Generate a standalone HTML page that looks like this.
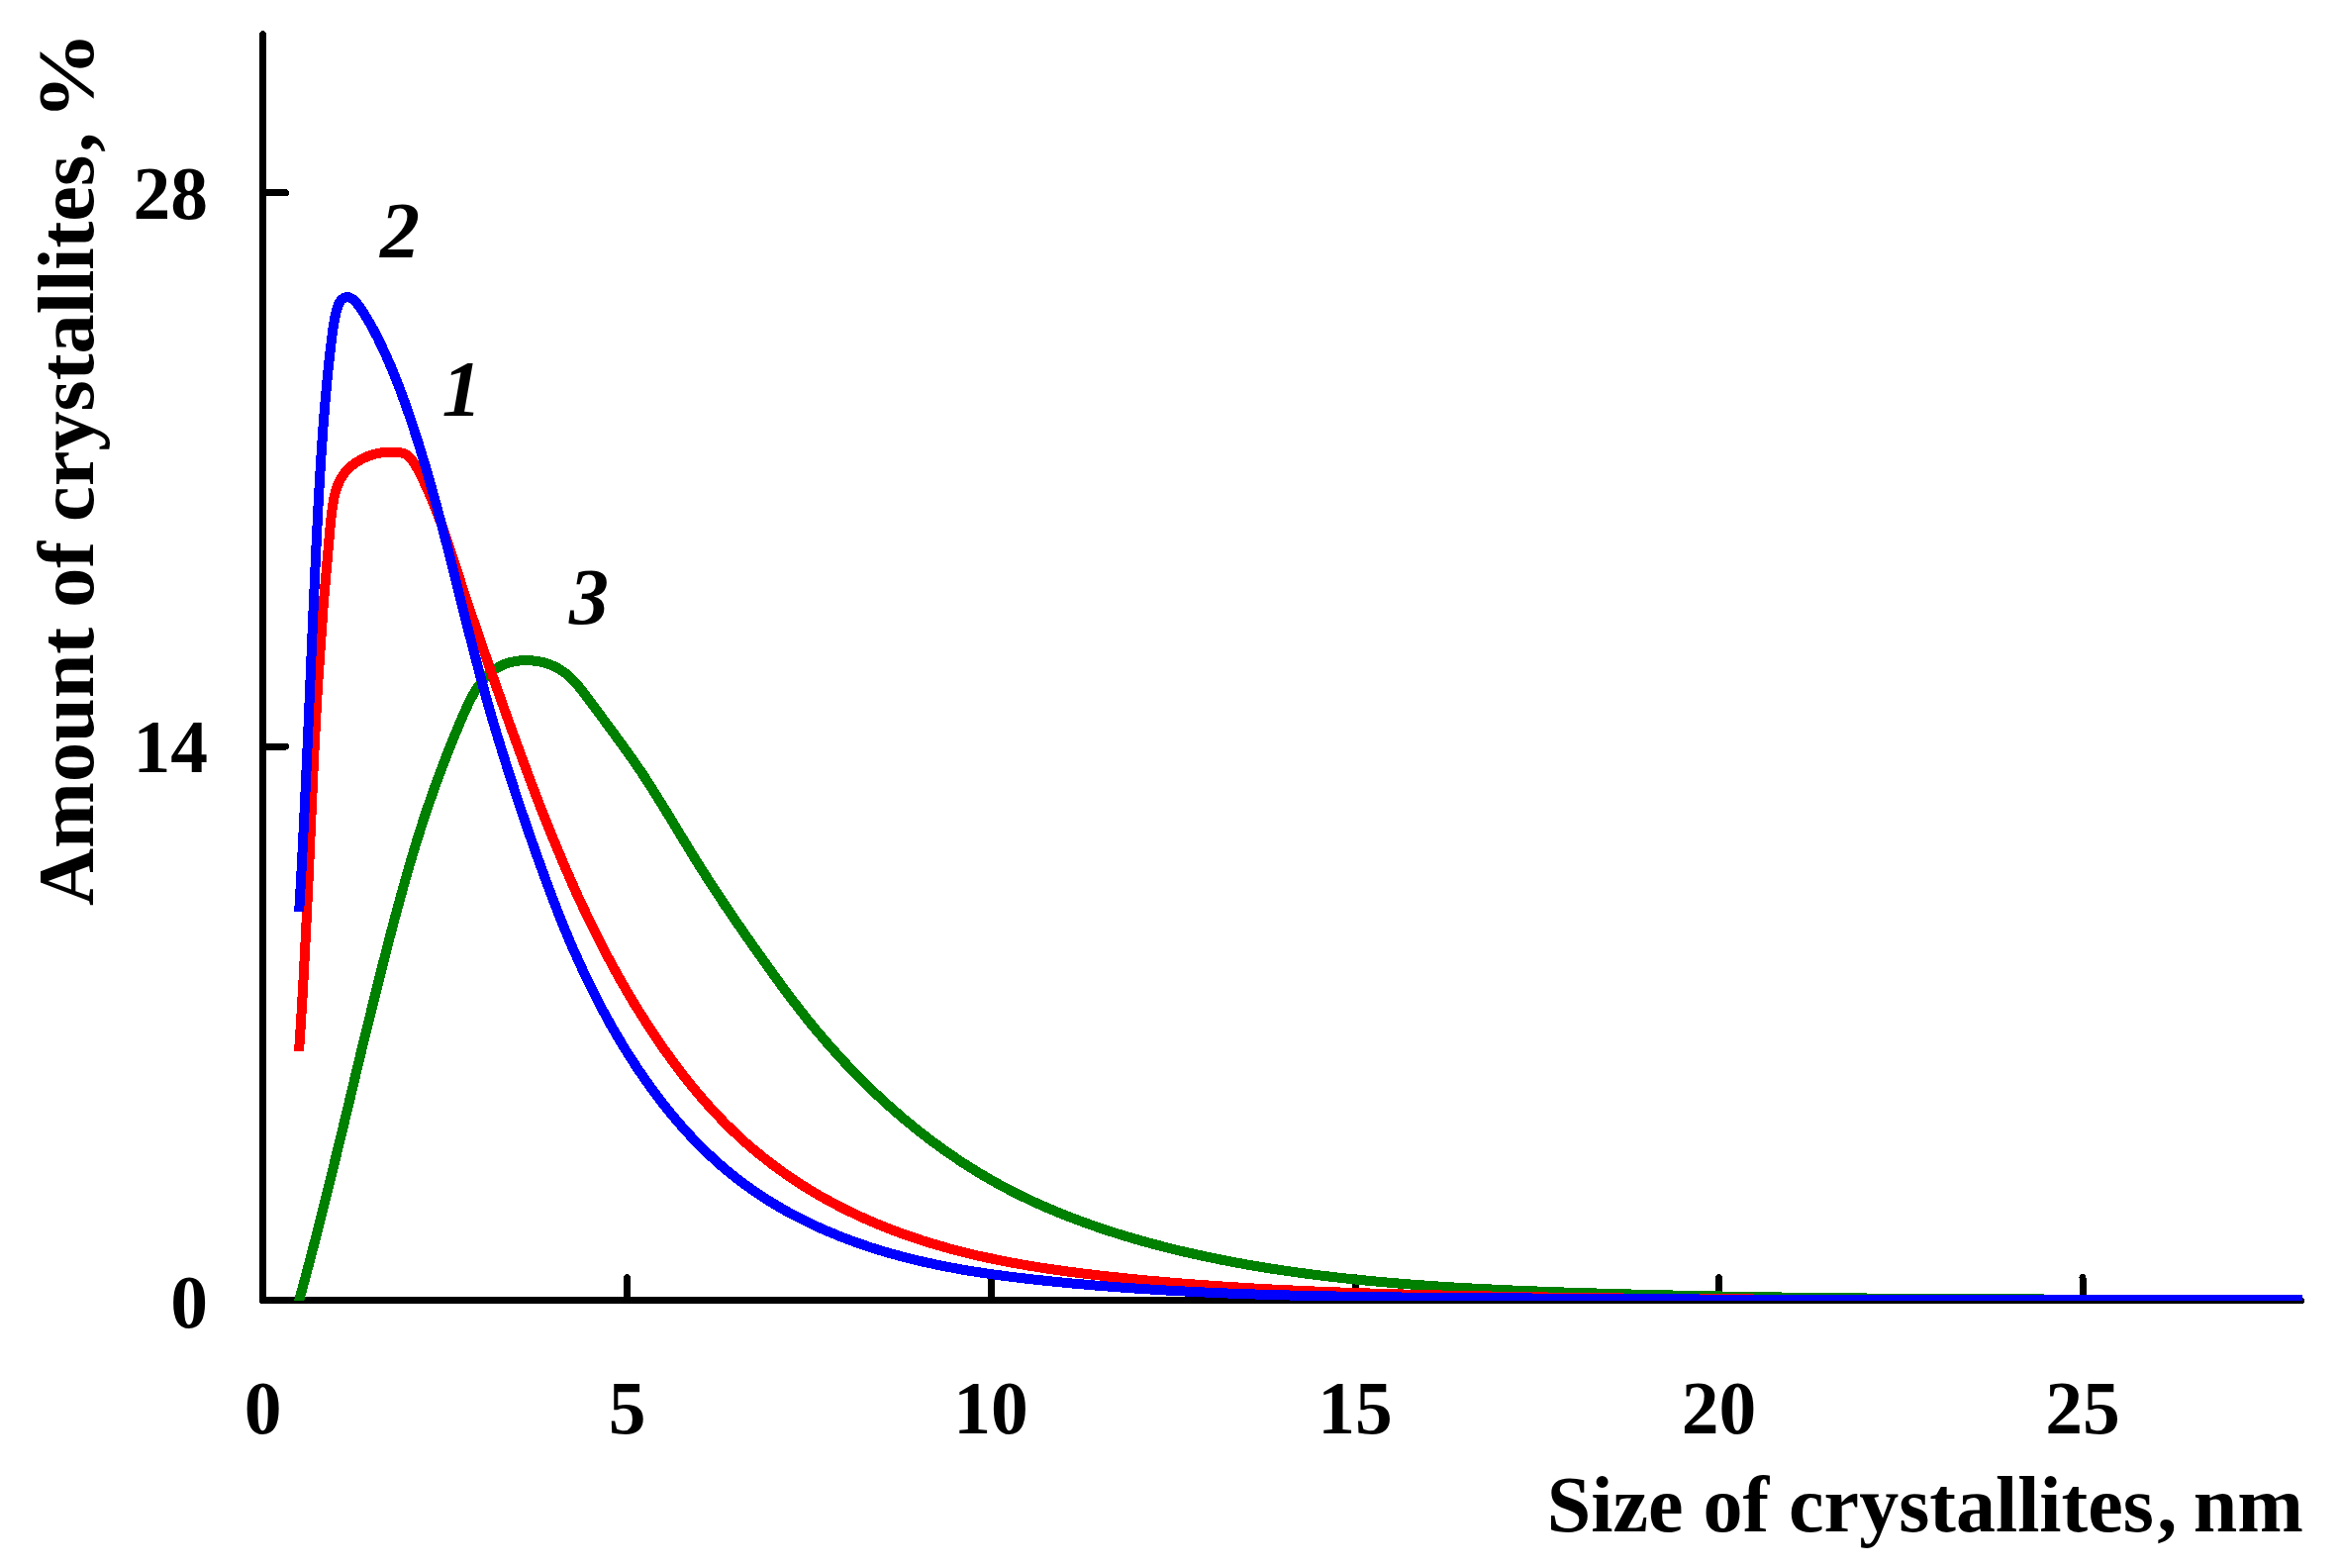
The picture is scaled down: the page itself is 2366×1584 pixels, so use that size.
<!DOCTYPE html>
<html><head><meta charset="utf-8"><title>Crystallite size distribution</title>
<style>
html,body{margin:0;padding:0;background:#fff;}
body{width:2366px;height:1584px;overflow:hidden;}
svg{display:block;}
text{font-family:"Liberation Serif",serif;font-weight:bold;fill:#000;}
.tick{font-size:75.5px;}
.title{font-size:80px;}.ytitle{font-size:80.3px;}
.lab{font-size:80px;font-style:italic;}
</style></head>
<body>
<svg width="2366" height="1584" viewBox="0 0 2366 1584">
<rect width="2366" height="1584" fill="#fff"/>
<defs><clipPath id="plot"><rect x="0" y="0" width="2326" height="1314"/></clipPath></defs>
<g stroke="#000" stroke-width="7" stroke-linecap="round" stroke-linejoin="round" fill="none" shape-rendering="crispEdges">
<path d="M265.5 34.5V1313.5H2324.5"/>
<path d="M265.5 194.5H288.5M265.5 754H288.5"/>
<path d="M633.5 1313.5V1290.5M1001 1313.5V1290.5M1369 1313.5V1290.5M1736.5 1313.5V1290.5M2104 1313.5V1290.5"/>
</g>
<g clip-path="url(#plot)" fill="none" stroke-width="10" stroke-linecap="butt" stroke-linejoin="round" shape-rendering="crispEdges">
<path stroke="#008000" d="M301.19 1317.01C340.62 1176.90 368.24 1035.45 407.62 895.44C414.89 869.59 422.56 843.79 430.99 818.68C440.97 788.92 452.02 760.13 464.68 729.89C474.43 706.58 485.15 682.42 506.33 672.44C522.64 664.75 545.16 665.49 561.74 674.05C576.52 681.68 586.58 695.53 596.66 709.17C614.20 732.90 631.79 755.99 647.98 780.16C667.54 809.36 685.07 840.13 703.73 870.09C724.98 904.22 747.69 937.29 771.01 969.98C787.95 993.74 805.21 1017.30 823.83 1039.79C842.47 1062.30 862.47 1083.75 883.69 1103.88C919.65 1137.98 959.10 1168.27 1002.17 1192.59C1042.82 1215.56 1086.70 1233.20 1131.44 1247.11C1186.60 1264.25 1243.07 1275.71 1300.01 1283.97C1399.12 1298.35 1499.66 1303.04 1600.06 1306.15C1843.60 1313.71 2086.26 1312.00 2330.02 1313.49"/>
<path stroke="#ff0000" d="M302.03 1061.98C310.98 938.14 313.65 813.90 321.22 690.01C324.49 636.51 328.68 583.08 333.78 529.67C334.85 518.47 335.96 507.28 339.10 496.42C340.34 492.15 341.88 487.94 344.00 484.09C353.21 467.32 373.16 457.44 392.04 456.77C394.01 456.70 395.96 456.73 397.97 456.76C400.24 456.80 402.58 456.85 404.81 457.24C407.23 457.66 409.52 458.48 411.48 459.84C414.24 461.75 416.33 464.70 418.22 467.69C420.53 471.36 422.52 475.07 424.43 478.82C440.88 511.07 451.72 546.02 463.00 580.64C477.74 625.90 493.22 670.58 509.10 715.28C538.51 798.05 569.30 880.84 609.81 958.77C627.94 993.65 648.02 1027.55 670.70 1059.79C694.68 1093.87 721.56 1126.10 752.57 1153.71C797.97 1194.14 852.21 1224.67 909.38 1245.60C977.37 1270.50 1049.48 1281.83 1121.65 1289.73C1232.18 1301.82 1342.82 1305.85 1453.64 1308.43C1745.40 1315.20 2038.39 1311.82 2329.98 1313.57"/>
<path stroke="#0000ff" d="M302.16 921.02C310.73 781.95 314.42 643.08 321.91 503.98C324.93 447.88 328.57 391.75 335.84 336.29C336.97 327.66 338.18 319.05 340.89 310.53C341.60 308.32 342.40 306.11 343.77 304.24C345.41 302.02 347.86 300.29 350.31 300.11C353.49 299.89 356.69 302.28 359.21 304.94C360.94 306.76 362.35 308.70 363.73 310.68C370.47 320.36 376.21 330.75 381.53 341.32C395.88 369.87 407.08 399.82 417.06 430.14C447.84 523.65 467.04 620.63 494.10 715.21C506.11 757.20 519.67 798.72 533.89 840.02C547.67 880.04 562.07 919.86 578.99 958.66C600.59 1008.18 626.30 1056.05 658.25 1099.80C681.79 1132.03 708.72 1162.03 739.72 1186.87C781.01 1219.97 829.53 1243.92 879.97 1260.29C938.23 1279.19 999.05 1287.97 1060.02 1294.24C1190.80 1307.69 1322.28 1309.62 1453.70 1310.95C1745.87 1313.91 2037.80 1313.91 2330.00 1313.47"/>
</g>
<g class="tick" text-anchor="end">
<text x="210" y="221">28</text>
<text x="210" y="780">14</text>
<text x="210" y="1340.5">0</text>
</g>
<g class="tick" text-anchor="middle">
<text x="265.5" y="1448">0</text>
<text x="633.5" y="1448">5</text>
<text x="1001" y="1448">10</text>
<text x="1369" y="1448">15</text>
<text x="1736.5" y="1448">20</text>
<text x="2104" y="1448">25</text>
</g>
<text class="title" text-anchor="end" x="2327" y="1546.5">Size of crystallites<tspan dx="3.5">,</tspan><tspan dx="-3.5"> nm</tspan></text>
<text class="title ytitle" transform="translate(93.5 915) rotate(-90)">Amount of crystallites<tspan dx="3">,</tspan> <tspan dx="-7.5" textLength="89" lengthAdjust="spacingAndGlyphs">%</tspan></text>
<text class="lab" x="384" y="260">2</text>
<text class="lab" x="446.5" y="420">1</text>
<text class="lab" x="575" y="630">3</text>
</svg>
</body></html>
